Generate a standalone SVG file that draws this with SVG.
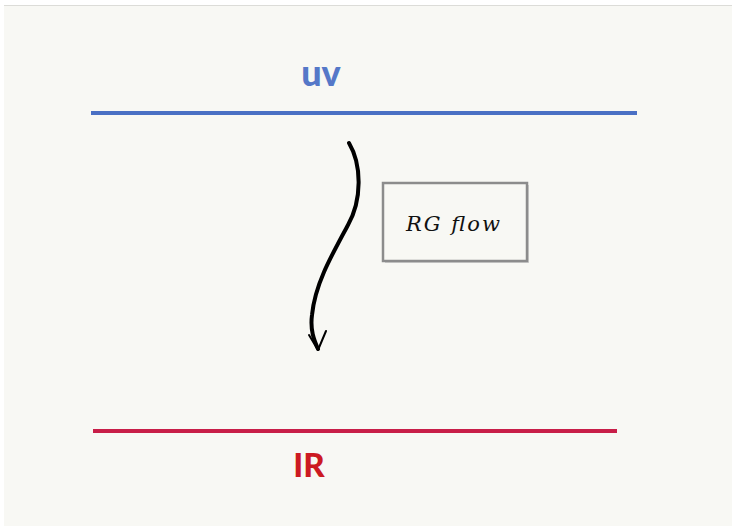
<svg xmlns="http://www.w3.org/2000/svg" width="732" height="529" viewBox="0 0 732 529">
<style>
.hand{font-family:"Lato","Open Sans",sans-serif;font-weight:900}
.scr{font-family:"DejaVu Serif","Liberation Serif",serif;font-style:italic}
</style>
<rect x="0" y="0" width="732" height="529" fill="#ffffff"/>
<rect x="4" y="5" width="728" height="521" fill="#f8f8f4"/>
<line x1="4" y1="5.5" x2="732" y2="5.5" stroke="#dcdcd8" stroke-width="1"/>
<g id="uv">
<line x1="91" y1="113" x2="637" y2="113" stroke="#4a70c4" stroke-width="4"/>
<text x="321" y="86" text-anchor="middle" class="hand" font-size="36" fill="#5578c8">uv</text>
</g>
<g id="ir">
<line x1="93" y1="431" x2="617" y2="431" stroke="#c81e48" stroke-width="4"/>
<text x="309" y="477" text-anchor="middle" class="hand" font-size="33" fill="#cc1a22">IR</text>
</g>
<g id="rgflow">
<rect x="385" y="185" width="144" height="78" fill="#8a8a8a" opacity="0.35"/>
<rect x="383" y="183" width="144" height="78" fill="#f8f8f4" stroke="#8c8c8c" stroke-width="2.5"/>
<text x="453" y="231" text-anchor="middle" class="scr" font-size="21" fill="#111" textLength="94">RG flow</text>
</g>
<g id="connectors">
<path d="M349 143 C362 165 362 200 348 225 C330 258 315 285 312 315 C310 330 314 340 318 349" fill="none" stroke="#000" stroke-width="4" stroke-linecap="round"/>
<path d="M309 335 L318 350 L326 331" fill="none" stroke="#000" stroke-width="2" stroke-linecap="round" stroke-linejoin="round"/>
</g>
</svg>
